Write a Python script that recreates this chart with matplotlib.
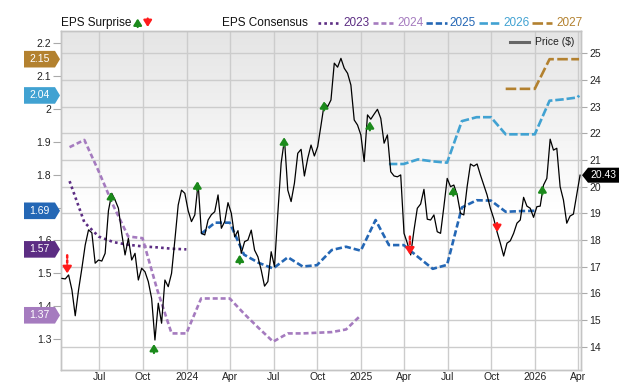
import numpy as np
import pandas as pd
import matplotlib
matplotlib.use('Agg')
import matplotlib.pyplot as plt
import matplotlib.transforms as mtransforms
from matplotlib.patches import Polygon
from matplotlib.lines import Line2D

plt.rcParams['font.family'] = ['Liberation Sans', 'DejaVu Sans']

# ---------------- data ----------------
price_start, price_end = '2023-04-14', '2026-04-05'
price = [16.56, 16.54, 16.69, 16.13, 15.16, 16.13, 16.94, 17.81, 18.38, 18.27,
         17.13, 17.25, 17.21, 17.50, 19.10, 19.75, 19.50, 19.19, 18.25, 17.44,
         18.06, 17.25, 17.50, 16.50, 16.94, 16.81, 16.44, 15.81, 14.25, 15.63,
         14.88, 16.50, 16.25, 16.75, 18.00, 19.31, 19.87, 19.75, 19.10, 18.69,
         18.94, 20.13, 18.25, 18.19, 18.75, 18.95, 19.06, 19.69, 18.44, 18.69,
         19.40, 19.00, 18.12, 18.35, 17.50, 17.94, 18.00, 18.37, 17.62, 17.37,
         16.87, 16.27, 16.44, 17.56, 17.00, 19.00, 20.88, 21.78, 19.87, 19.44,
         20.13, 21.25, 21.40, 20.40, 21.06, 21.56, 21.15, 21.50, 22.30, 23.13,
         23.00, 23.25, 24.63, 24.48, 24.81, 24.44, 24.25, 23.81, 22.50, 22.31,
         21.94, 20.94, 22.69, 22.53, 22.72, 22.90, 22.56, 21.63, 21.94, 20.56,
         20.40, 20.37, 20.44, 18.25, 17.88, 17.44, 18.37, 19.19, 19.35, 19.90,
         18.78, 18.75, 18.94, 18.31, 18.25, 19.25, 20.31, 20.00, 20.06, 19.69,
         19.00, 18.94, 20.00, 20.85, 20.77, 20.85, 20.44, 20.06, 19.69, 19.19,
         18.81, 18.31, 17.88, 17.40, 17.88, 17.97, 18.25, 18.63, 18.75, 19.60,
         19.27, 19.19, 18.85, 19.25, 19.27, 20.06, 20.31, 21.78, 21.37, 21.44,
         20.00, 19.50, 18.63, 18.90, 18.97, 19.69, 20.43]

eps_2023_dates = pd.date_range('2023-04-30', '2023-12-31', freq='ME')
eps_2023 = [1.78, 1.655, 1.612, 1.595, 1.587, 1.582, 1.579, 1.575, 1.573]

eps_2024_dates = pd.date_range('2023-04-30', '2024-12-31', freq='ME')
eps_2024 = [1.883, 1.905, 1.81, 1.705, 1.612, 1.607, 1.45, 1.318, 1.318,
            1.424, 1.424, 1.424, 1.378, 1.334, 1.293, 1.318, 1.318, 1.32,
            1.322, 1.33, 1.373]

eps_2025_dates = pd.date_range('2024-01-31', '2025-12-31', freq='ME')
eps_2025 = [1.62, 1.654, 1.654, 1.557, 1.532, 1.515, 1.549, 1.521, 1.525,
            1.571, 1.581, 1.569, 1.662, 1.586, 1.586, 1.55, 1.514, 1.526,
            1.70, 1.722, 1.721, 1.687, 1.689, 1.69]

eps_2026_dates = list(pd.date_range('2025-02-28', '2026-03-31', freq='ME')) + [pd.Timestamp('2026-04-03')]
eps_2026 = [1.832, 1.832, 1.846, 1.84, 1.836, 1.962, 1.974, 1.974, 1.922,
            1.922, 1.922, 2.024, 2.028, 2.034, 2.04]

eps_2027_dates = list(pd.date_range('2025-10-31', '2026-03-31', freq='ME')) + [pd.Timestamp('2026-04-03')]
eps_2027 = [2.06, 2.06, 2.06, 2.15, 2.15, 2.15, 2.15]

series_years = ['2023', '2024', '2025', '2026', '2027']

surprise_dates = ['2023-04-25', '2023-07-26', '2023-10-24', '2024-01-23',
                  '2024-04-21', '2024-07-23', '2024-10-15', '2025-01-19',
                  '2025-04-13', '2025-07-13', '2025-10-13', '2026-01-16']
surprise_price = [16.75, 19.80, 14.10, 20.20, 17.45, 21.85, 23.20, 22.45,
                  17.45, 20.00, 18.30, 20.05]
surprise_beat = [False, True, True, True, True, True, True, True,
                 False, True, False, True]

x_ticks = pd.date_range('2023-07-01', '2026-04-01', freq='QS')
x_tick_labels = ['Jul', 'Oct', '2024', 'Apr', 'Jul', 'Oct', '2025', 'Apr',
                 'Jul', 'Oct', '2026', 'Apr']
eps_ticks = [1.3, 1.4, 1.5, 1.6, 1.7, 1.8, 1.9, 2.0, 2.1, 2.2]
eps_tick_labels = ['1.3', '1.4', '1.5', '1.6', '1.7', '1.8', '1.9', '2', '2.1', '2.2']
price_ticks = list(range(14, 26))

# ---------------- styling ----------------
colors = {'2023': '#5c2d83', '2024': '#a57bbf', '2025': '#2467b5',
          '2026': '#41a2d2', '2027': '#b3812f'}
styles = {'2023': (0, (1, 1.2)), '2024': (0, (1.9, 1.1)), '2025': (0, (2.4, 1.1)),
          '2026': (0, (3.2, 1.1)), '2027': (0, (4.0, 1.3))}
GREEN = '#1b8a1b'
RED = '#ff1a1a'
GRID = '#cccccc'
TXT = '#222222'
dotted_trail = (0, 8)   # misses drawn with a dotted trail above the arrow

W, H = 640, 382
fig = plt.figure(figsize=(6.4, 3.82), dpi=100)
L, R, T, B = 61, 581, 31, 370
ax = fig.add_axes([L / W, 1 - B / H, (R - L) / W, (B - T) / H])
ax2 = ax.twinx()

# background gradient
grad = np.concatenate([np.linspace(0.895, 1.0, 55), np.ones(45)])[:, None]
ax.imshow(grad, extent=[0, 1, 0, 1], transform=ax.transAxes, aspect='auto',
          cmap='gray', vmin=0, vmax=1, zorder=0, interpolation='bilinear')

ax.set_xlim(pd.Timestamp('2023-04-12'), pd.Timestamp('2026-04-07'))
ax.set_ylim(1.207, 2.2355)
ax2.set_ylim(13.126, 25.836)

# grid
ax.set_xticks(x_ticks)
ax.set_xticklabels(x_tick_labels)
ax.grid(axis='x', color=GRID, lw=1.0)
ax.grid(axis='y', visible=False)
ax2.grid(False)
hbt = mtransforms.blended_transform_factory(ax.transAxes, ax2.transData)
for p in price_ticks:
    ax.add_line(Line2D([0, 1], [p, p], transform=hbt, color=GRID, lw=1.0, zorder=1))

ax.set_yticks(eps_ticks)
ax.set_yticklabels(eps_tick_labels)
ax2.set_yticks(price_ticks)
ax2.set_yticklabels([str(p) for p in price_ticks])

ax.tick_params(axis='x', length=0, labelsize=7.5, pad=1.2, labelcolor=TXT)
ax.tick_params(axis='y', length=5.5, width=0.8, color='#aaaaaa', labelsize=7.5, pad=1.5, labelcolor=TXT)
ax2.tick_params(axis='y', length=4.5, width=0.8, color='#aaaaaa', labelsize=7.5, pad=1.5, labelcolor=TXT)
for a in (ax, ax2):
    for s in a.spines.values():
        s.set_color('#c4c4c4')
        s.set_linewidth(1.0)

# EPS consensus lines
series = [(eps_2023_dates, eps_2023), (eps_2024_dates, eps_2024), (eps_2025_dates, eps_2025),
          (eps_2026_dates, eps_2026), (eps_2027_dates, eps_2027)]
for yr, (d, v) in zip(series_years, series):
    ax.plot(d, v, color=colors[yr], lw=1.9, linestyle=styles[yr], zorder=3)

# price line
price_dates = pd.date_range(price_start, price_end, periods=len(price))
ax2.plot(price_dates, price, color='black', lw=0.9, zorder=4)

# surprise arrows
for i, (d, p, beat) in enumerate(zip(surprise_dates, surprise_price, surprise_beat)):
    d = pd.Timestamp(d)
    if beat:
        ax2.annotate('', xy=(d, p), xytext=(0, -6.5), textcoords='offset points',
                     arrowprops=dict(arrowstyle='-|>,head_length=0.38,head_width=0.24',
                                     color=GREEN, lw=1.6, shrinkA=0, shrinkB=0),
                     annotation_clip=False, zorder=6)
    elif i in dotted_trail:
        ax2.annotate('', xy=(d, p), xytext=(0, 13), textcoords='offset points',
                     arrowprops=dict(arrowstyle='-', color=RED, lw=1.8,
                                     linestyle=(0, (1, 1)), shrinkA=0, shrinkB=4.5),
                     annotation_clip=False, zorder=6)
        ax2.annotate('', xy=(d, p), xytext=(0, 5), textcoords='offset points',
                     arrowprops=dict(arrowstyle='-|>,head_length=0.4,head_width=0.26',
                                     color=RED, lw=1.6, shrinkA=0, shrinkB=0),
                     annotation_clip=False, zorder=6)
    else:
        ax2.annotate('', xy=(d, p), xytext=(0, 6.5), textcoords='offset points',
                     arrowprops=dict(arrowstyle='-|>,head_length=0.38,head_width=0.24',
                                     color=RED, lw=1.6, shrinkA=0, shrinkB=0),
                     annotation_clip=False, zorder=6)

# ---------------- value tags ----------------
def tag(axis, value, color, text, x_px, side):
    base = mtransforms.blended_transform_factory(fig.transFigure, axis.transData)
    tr = fig.dpi_scale_trans + mtransforms.ScaledTranslation(x_px / W, value, base)
    if side == 'left':
        pts = np.array([(0, 0), (-5, 8.3), (-36, 8.3), (-36, -8.3), (-5, -8.3)]) / 100.0
        tx = -20.5 / 100.0
    else:
        pts = np.array([(0, 0), (6, 7.5), (37, 7.5), (37, -7.5), (6, -7.5)]) / 100.0
        tx = 21.5 / 100.0
    fig.add_artist(Polygon(pts, closed=True, facecolor=color, edgecolor='none',
                           transform=tr, zorder=10))
    fig.text(tx, 0, text, transform=tr, color='white', fontsize=7.5,
             ha='center', va='center', zorder=11)

for yr, (d, v) in zip(series_years, series):
    tag(ax, v[-1], colors[yr], f'{v[-1]:.2f}', 60, 'left')
tag(ax2, price[-1], 'black', f'{price[-1]:.2f}', 582, 'right')

# ---------------- header legend ----------------
yh = 1 - 22.7 / H
HF = 8.5
fig.text(61 / W, yh, 'EPS Surprise', fontsize=HF, color='#111111', va='center', ha='left')
fig.text(221.5 / W, yh, 'EPS Consensus', fontsize=HF, color='#111111', va='center', ha='left')
ax.annotate('', xy=(137.7, H - 18.5), xycoords='figure pixels', xytext=(137.7, H - 27),
            textcoords='figure pixels',
            arrowprops=dict(arrowstyle='-|>,head_length=0.38,head_width=0.24',
                            color=GREEN, lw=1.6, shrinkA=0, shrinkB=0), annotation_clip=False)
ax.annotate('', xy=(147.7, H - 27), xycoords='figure pixels', xytext=(147.7, H - 18.5),
            textcoords='figure pixels',
            arrowprops=dict(arrowstyle='-|>,head_length=0.38,head_width=0.24',
                            color=RED, lw=1.6, shrinkA=0, shrinkB=0), annotation_clip=False)

leg_x = {'2023': (318, 338, 343), '2024': (373, 393, 397.5), '2025': (426, 447, 449.5),
         '2026': (479, 499, 503), '2027': (532, 552, 556.5)}
for yr in series_years:
    x0, x1, xt = leg_x[yr]
    fig.add_artist(Line2D([x0 / W, x1 / W], [yh, yh], transform=fig.transFigure,
                          color=colors[yr], lw=1.9, linestyle=styles[yr]))
    fig.text(xt / W, yh, yr, fontsize=HF, color=colors[yr], va='center', ha='left')

# price legend inside the plot
yp = 1 - 42.3 / H
fig.add_artist(Line2D([509.5 / W, 528.7 / W], [yp, yp], transform=fig.transFigure,
                      color='#666666', lw=2.2))
fig.text(535 / W, yp, 'Price ($)', fontsize=7.5, color=TXT, va='center', ha='left')

fig.savefig('out.png', dpi=100)
